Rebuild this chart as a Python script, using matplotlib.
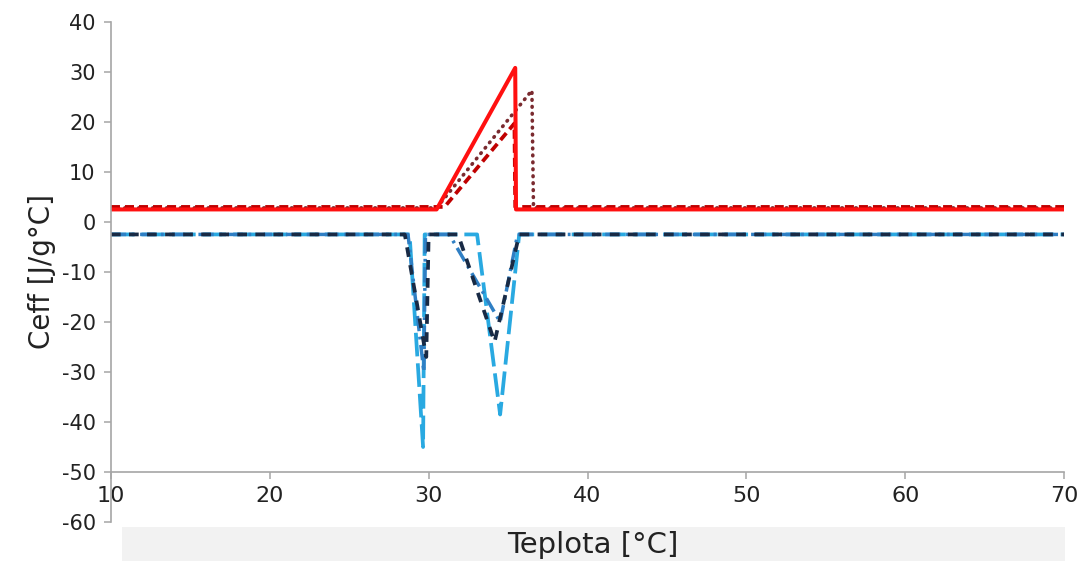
import numpy as np
import matplotlib.pyplot as plt
from matplotlib.patches import Rectangle

plt.rcParams['lines.scale_dashes'] = False
plt.rcParams['axes.unicode_minus'] = False
plt.rcParams['font.family'] = ['DejaVu Sans']

# heating curves (red)
red_solid_x = [10, 30.5, 35.45, 35.5, 70]
red_solid_y = [2.5, 2.5, 30.8, 2.5, 2.5]
red_dash_x = [10, 31.0, 35.4, 35.45, 70]
red_dash_y = [3.0, 3.0, 19.7, 3.0, 3.0]
red_dot_x = [10, 30.5, 36.5, 36.6, 70]
red_dot_y = [2.8, 2.8, 26.3, 2.8, 2.8]

# cooling curves (blue)
lblue_x = [10, 28.8, 29.65, 29.75, 33.05, 34.5, 35.7, 70]
lblue_y = [-2.5, -2.5, -45, -2.5, -2.5, -38.5, -2.5, -2.5]
mblue_x = [10, 28.7, 29.7, 29.8, 31.3, 34.5, 35.6, 70]
mblue_y = [-2.5, -2.5, -30, -2.5, -2.5, -20, -2.5, -2.5]
navy_x = [10, 28.5, 29.85, 30.0, 31.85, 34.15, 35.7, 70]
navy_y = [-2.5, -2.5, -27, -2.5, -2.5, -24, -2.5, -2.5]

xticks = [10, 20, 30, 40, 50, 60, 70]
yticks = [-60, -50, -40, -30, -20, -10, 0, 10, 20, 30, 40]

fig = plt.figure(figsize=(10.77, 5.61), dpi=100)
fig.patches.append(Rectangle((0.113, 0), 0.876, 0.061, transform=fig.transFigure,
                             facecolor='#f2f2f2', edgecolor='none', zorder=0))
ax = fig.add_axes([0.103, 0.0695, 0.885, 0.8915])

l, = ax.plot(lblue_x, lblue_y, color='#29a9e1', lw=2.7)
l.set_dashes([17, 5])
l, = ax.plot(mblue_x, mblue_y, color='#2f7fc4', lw=2.5)
l.set_dashes([11, 4, 2, 4])
l, = ax.plot(navy_x, navy_y, color='#182a45', lw=2.7)
l.set_dashes([7, 6])

l, = ax.plot(red_dot_x, red_dot_y, color='#7a2a2f', lw=2.6, dash_capstyle='round')
l.set_dashes([0.5, 4.5])
l, = ax.plot(red_dash_x, red_dash_y, color='#c00000', lw=2.7)
l.set_dashes([6.5, 3.6])
ax.plot(red_solid_x, red_solid_y, color='#ff1010', lw=2.9)

ax.set_xlim(10, 70)
ax.set_ylim(-60, 40)
ax.set_xticks(xticks)
ax.set_yticks(yticks)
for s in ['top', 'right']:
    ax.spines[s].set_visible(False)
ax.spines['bottom'].set_position(('data', -50))
for s in ['left', 'bottom']:
    ax.spines[s].set_color('#a6a6a6')
    ax.spines[s].set_linewidth(1.2)
ax.tick_params(axis='both', colors='#a6a6a6', length=5, width=1.1, labelcolor='#222222')
ax.tick_params(axis='y', labelsize=15, pad=6)
ax.tick_params(axis='x', labelsize=16, pad=5)

ax.set_ylabel('Ceff [J/g°C]', fontsize=20, color='#222222', labelpad=4)
fig.text(0.55, 0.028, 'Teplota [°C]', fontsize=21, color='#222222',
         ha='center', va='center')

fig.savefig('out.png', dpi=100)
